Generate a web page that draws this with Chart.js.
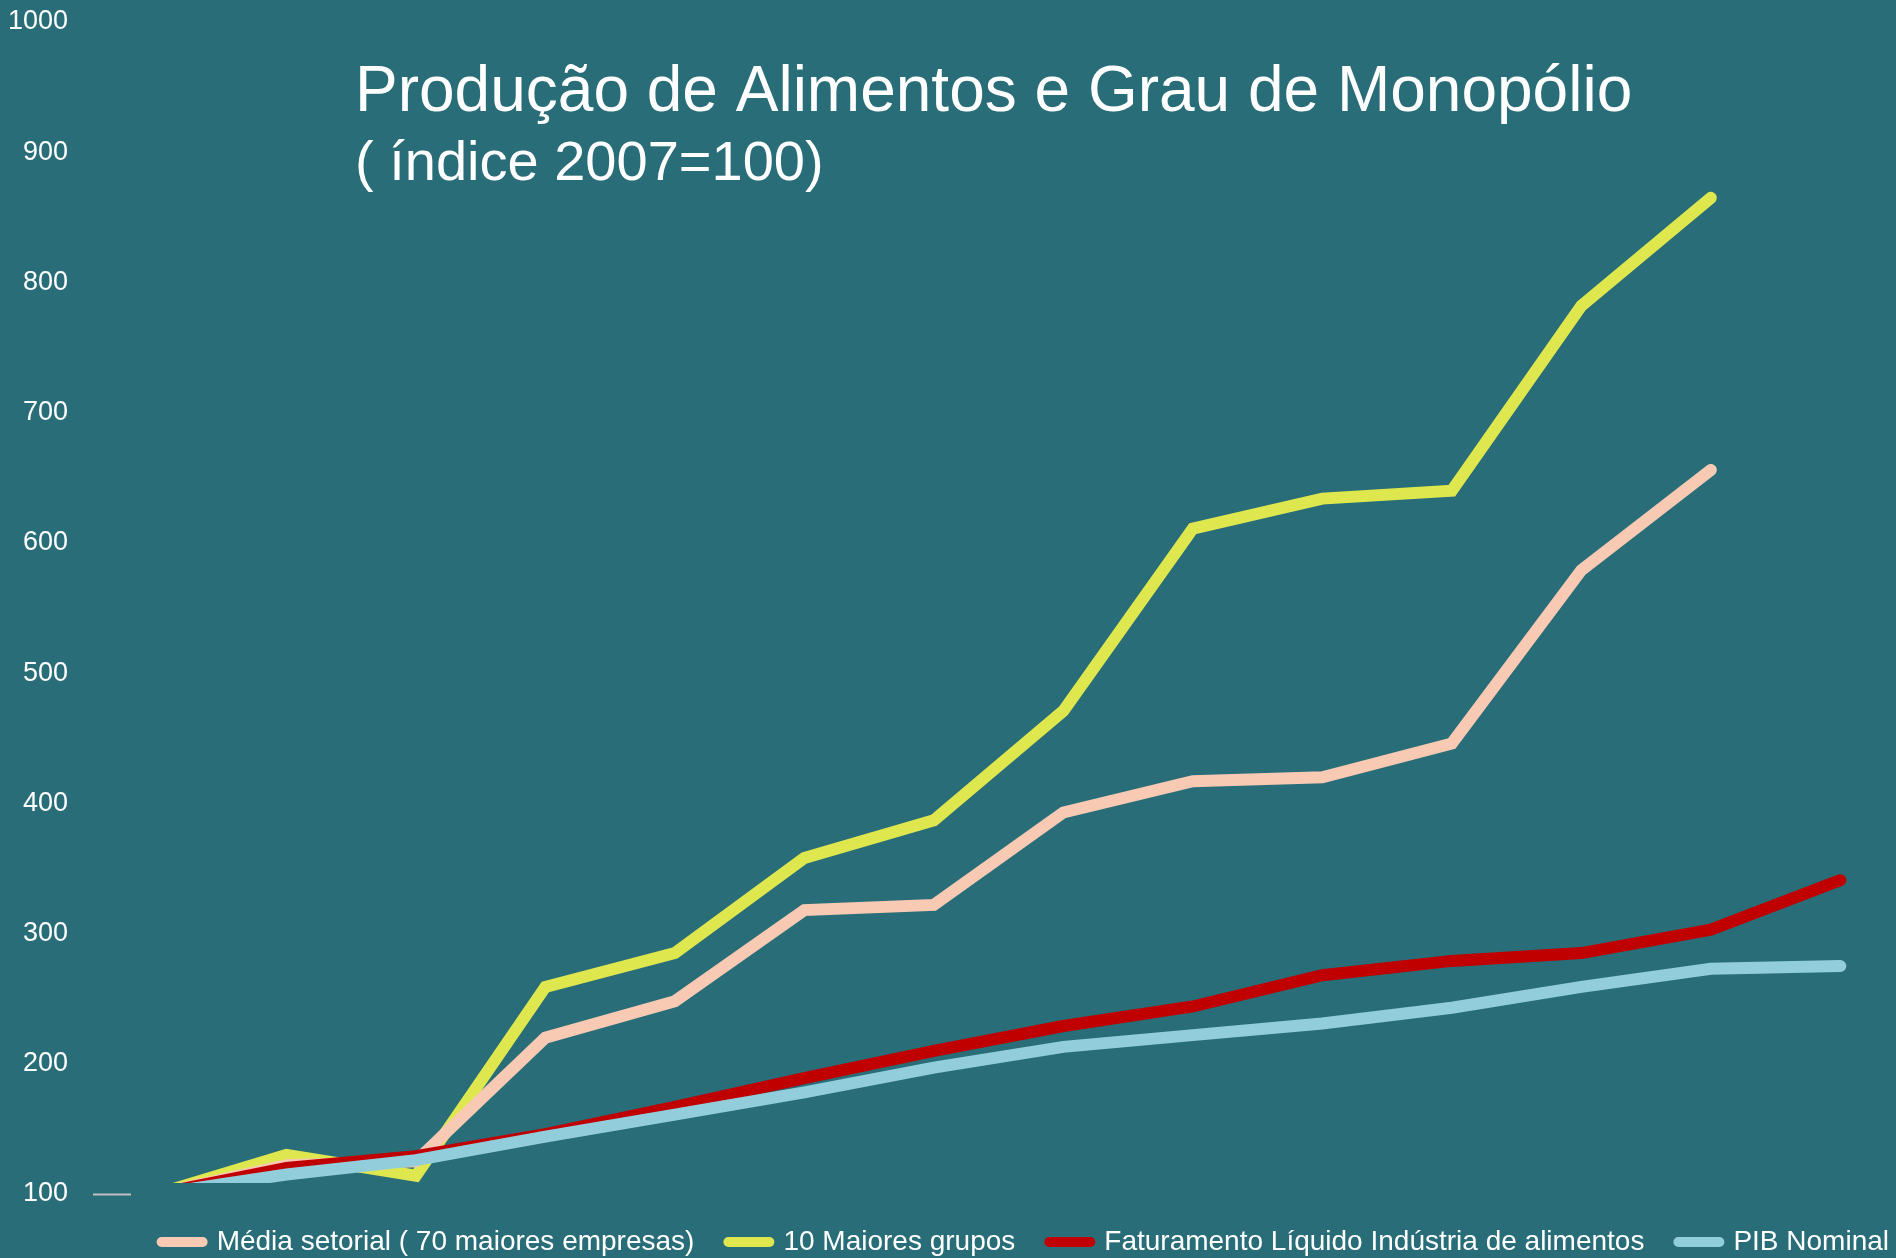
<!DOCTYPE html>
<html lang="pt">
<head>
<meta charset="utf-8">
<title>Produção de Alimentos e Grau de Monopólio</title>
<script src="https://cdn.jsdelivr.net/npm/chart.js@4.4.1/dist/chart.umd.min.js"></script>
<style>
  html, body { margin: 0; padding: 0; background: #286d77; }
  #wrap { position: relative; width: 1896px; height: 1258px; }
</style>
</head>
<body>
<div id="wrap"><canvas id="grafico"></canvas></div>
<script>
// dados (índice 2007=100)
const anos = [2007, 2008, 2009, 2010, 2011, 2012, 2013, 2014, 2015, 2016, 2017, 2018, 2019, 2020];
const mediaSetorial = [100, 122, 125, 220, 248, 318, 322, 393, 417, 420, 446, 579, 656];
const maioresGrupos = [100, 130, 114, 259, 285, 358, 387, 471, 611, 634, 640, 782, 865];
const faturamento = [100, 120, 129, 146, 167, 189, 210, 229, 244, 268, 279, 285, 303, 341];
const pibNominal = [100, 115, 126, 144, 161, 178, 197, 213, 222, 231, 243, 259, 273, 275];
const nomesSeries = [
  'Média setorial ( 70 maiores empresas)',
  '10 Maiores grupos',
  'Faturamento Líquido Indústria de alimentos',
  'PIB Nominal'
];
const yTicks = [100, 200, 300, 400, 500, 600, 700, 800, 900, 1000];
const tituloLinhas = ['Produção de Alimentos e Grau de Monopólio', '( índice 2007=100)'];

const FONTE = '"Liberation Sans", Arial, sans-serif';

function pontos(valores) {
  return valores.map((v, i) => ({ x: anos[i], y: v }));
}

function serie(label, valores, cor, ordem) {
  return {
    label: label,
    data: pontos(valores),
    borderColor: cor,
    backgroundColor: cor,
    borderWidth: 12,
    borderCapStyle: 'round',
    borderJoinStyle: 'miter',
    pointRadius: 0,
    tension: 0,
    order: ordem,
    clip: { left: false, top: false, right: false, bottom: -11 }
  };
}

// título desenhado dentro da área do gráfico
const tituloPlugin = {
  id: 'tituloInterno',
  afterDraw(chart) {
    const ctx = chart.ctx;
    ctx.save();
    ctx.fillStyle = '#ffffff';
    ctx.textAlign = 'left';
    ctx.textBaseline = 'alphabetic';
    ctx.font = '64px ' + FONTE;
    ctx.fillText(tituloLinhas[0], 355, 111);
    ctx.font = '56px ' + FONTE;
    ctx.fillText(tituloLinhas[1], 355, 180);
    ctx.restore();
  }
};

const ctx = document.getElementById('grafico');

new Chart(ctx, {
  type: 'line',
  data: {
    datasets: [
      serie(nomesSeries[0], mediaSetorial, '#f8c9b3', 3),
      serie(nomesSeries[1], maioresGrupos, '#dfe74f', 4),
      serie(nomesSeries[2], faturamento, '#c00000', 2),
      serie(nomesSeries[3], pibNominal, '#92cddc', 1)
    ]
  },
  options: {
    responsive: true,
    maintainAspectRatio: false,
    animation: false,
    layout: {
      padding: { left: 0, right: -27, top: 22, bottom: -8 }
    },
    plugins: {
      tooltip: { enabled: false },
      title: { display: false },
      legend: {
        position: 'bottom',
        align: 'end',
        labels: {
          color: '#ffffff',
          font: { family: FONTE, size: 28 },
          usePointStyle: true,
          pointStyle: 'line',
          pointStyleWidth: 41,
          padding: 34,
          sort: (a, b) => a.datasetIndex - b.datasetIndex,
          generateLabels: chart => Chart.defaults.plugins.legend.labels.generateLabels(chart).map(item => {
            item.lineWidth = 10;
            item.lineCap = 'round';
            item.pointStyle = 'line';
            item.fontColor = '#ffffff';
            return item;
          })
        }
      }
    },
    scales: {
      x: {
        type: 'linear',
        display: false,
        min: 2006.8,
        max: 2020.43
      },
      y: {
        min: 100,
        max: 1000,
        afterFit: scale => {
          scale.width = 131;
          scale.paddingTop = 0;
          scale.paddingBottom = 0;
        },
        afterBuildTicks: scale => { scale.ticks = yTicks.map(v => ({ value: v })); },
        border: { display: false },
        grid: {
          drawOnChartArea: false,
          drawTicks: true,
          tickLength: 38,
          tickWidth: 2,
          tickColor: c => (c.tick && c.tick.value === 100 ? '#c0c0c0' : 'rgba(0,0,0,0)')
        },
        ticks: {
          color: '#ffffff',
          padding: 25,
          font: { family: FONTE, size: 27 },
          callback: v => String(v)
        }
      }
    }
  },
  plugins: [tituloPlugin]
});
</script>
</body>
</html>
